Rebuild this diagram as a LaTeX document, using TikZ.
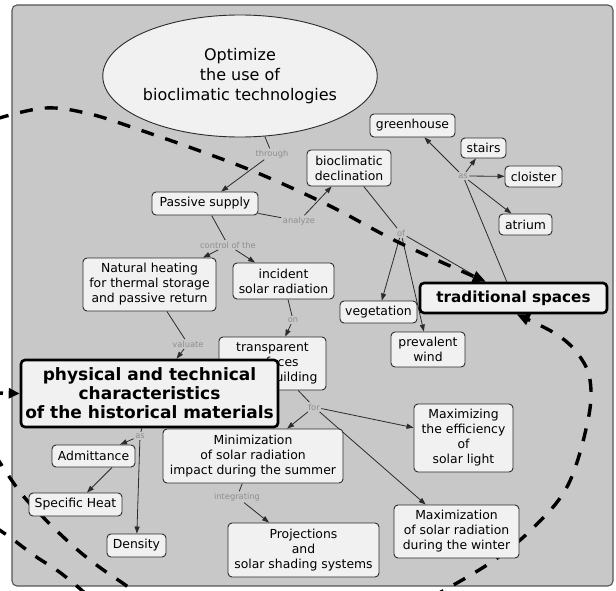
\documentclass[tikz,border=0pt]{standalone}
\usepackage{fontspec}
\setmainfont{DejaVu Sans}
\usetikzlibrary{shapes.geometric,arrows.meta}
\pgfdeclarelayer{background}
\pgfsetlayers{background,main}
\definecolor{panel}{HTML}{C8C8C8}
\definecolor{boxfill}{HTML}{F1F1F1}
\definecolor{edge}{HTML}{2B2B2B}
\definecolor{phrasegray}{HTML}{8E8E8E}

\begin{document}
\begin{tikzpicture}[x=1pt,y=-1pt,
  concept/.style={draw=edge, fill=boxfill, rounded corners=4pt, line width=0.9pt,
    align=center, inner sep=0pt, font=\fontsize{12.4}{15}\selectfont},
  keyconcept/.style={concept, draw=black, line width=2.6pt,
    font=\fontsize{17}{19}\selectfont\bfseries},
  phrase/.style={text=phrasegray, inner sep=1.5pt, font=\fontsize{8.3}{10}\selectfont},
  link/.style={draw=edge, line width=0.8pt},
  linkarrow/.style={link, -{Triangle[length=7pt,width=5pt]}},
  heavy/.style={draw=black, line width=3.4pt, dash pattern=on 13pt off 12pt},
  heavytip/.style={-{Triangle[length=13pt,width=11pt]}}
]
\useasboundingbox (0,0) rectangle (616,591);

% concepts
\node[ellipse, draw=edge, fill=boxfill, line width=0.9pt, minimum width=246pt,
  minimum height=122pt, inner sep=0pt, align=center,
  font=\fontsize{16}{20}\selectfont] (goal) at (240,76)
  {Optimize\\the use of\\bioclimatic technologies};
\node[concept, minimum width=106pt, minimum height=23pt] (passive) at (205,203.5) {Passive supply};
\node[concept, minimum width=84pt, minimum height=36pt] (decl) at (349,168) {bioclimatic\\declination};
\node[concept, minimum width=85pt, minimum height=23pt] (greenhouse) at (412.5,125.5) {greenhouse};
\node[concept, minimum width=45pt, minimum height=20pt] (stairs) at (483.5,148) {stairs};
\node[concept, minimum width=57pt, minimum height=21pt] (cloister) at (533.5,176.5) {cloister};
\node[concept, minimum width=53pt, minimum height=21pt] (atrium) at (525.5,224.5) {atrium};
\node[keyconcept, font=\fontsize{15.2}{18}\selectfont\bfseries, minimum width=187pt,
  minimum height=30pt] (trad) at (513.5,298) {traditional spaces};
\node[concept, minimum width=77pt, minimum height=22pt] (veg) at (378.5,312) {vegetation};
\node[concept, minimum width=74pt, minimum height=35pt] (wind) at (428,349.5) {prevalent\\wind};
\node[concept, minimum width=99pt, minimum height=68pt] (maxlight) at (463.5,438)
  {Maximizing\\the efficiency\\of\\solar light};
\node[concept, minimum width=125pt, minimum height=53pt] (maxwinter) at (456.5,531.5)
  {Maximization\\of solar radiation\\during the winter};
\node[concept, minimum width=151pt, minimum height=54pt] (shading) at (303.5,550)
  {Projections\\and\\solar shading systems};
\node[concept, minimum width=180pt, minimum height=54pt] (minsummer) at (253,456)
  {Minimization\\of solar radiation\\impact during the summer};
\node[concept, minimum width=107pt, minimum height=53pt] (transp) at (272.5,363.5)
  {transparent\\surfaces\\of the building};
\node[concept, minimum width=101pt, minimum height=36pt] (incident) at (283.5,281)
  {incident\\solar radiation};
\node[concept, minimum width=133pt, minimum height=53pt] (natural) at (149.5,284.5)
  {Natural heating\\for thermal storage\\and passive return};
\node[keyconcept, minimum width=257pt, minimum height=67pt] (materials) at (149.5,393.5)
  {physical and technical\\characteristics\\of the historical materials};
\node[concept, minimum width=83pt, minimum height=22pt] (admit) at (93.5,456) {Admittance};
\node[concept, minimum width=93pt, minimum height=23pt] (heat) at (75.5,504.5) {Specific Heat};
\node[concept, minimum width=59pt, minimum height=23pt] (density) at (136.5,545.5) {Density};

% linking phrases
\node[phrase] (through) at (272,154) {through};
\node[phrase] (analyze) at (299,221) {analyze};
\node[phrase] (control) at (228,245) {control of the};
\node[phrase] (valuate) at (188,344) {valuate};
\node[phrase] (on) at (293,320) {on};
\node[phrase] (for) at (314,407) {for};
\node[phrase] (integr) at (237,497) {integrating};
\node[phrase] (asspace) at (463,176) {as};
\node[phrase] (of) at (401,233) {of};
\node[phrase] (asmat) at (140,436) {as};

\coordinate (leftend) at (-3,393);

\begin{pgfonlayer}{background}
  \fill[white] (0,0) rectangle (616,591);
  \draw[fill=panel, draw=edge!80, line width=1.1pt, rounded corners=5pt] (12,5) rectangle (613,586);

  % links
  \draw[link] (goal) -- (through);
  \draw[linkarrow] (through) -- (passive);
  \draw[link] (passive) -- (analyze);
  \draw[linkarrow] (analyze) -- (decl);
  \draw[link] (passive) -- (control);
  \draw[linkarrow] (control) -- (natural);
  \draw[linkarrow] (control) -- (incident);
  \draw[link] (natural) -- (valuate);
  \draw[linkarrow] (valuate) -- (materials);
  \draw[link] (incident) -- (on);
  \draw[linkarrow] (on) -- (transp);
  \draw[link] (transp) -- (for);
  \draw[linkarrow] (for) -- (minsummer);
  \draw[linkarrow] (for) -- (maxlight);
  \draw[linkarrow] (for) -- (maxwinter);
  \draw[link] (minsummer) -- (integr);
  \draw[linkarrow] (integr) -- (shading);
  \draw[link] (trad) -- (asspace);
  \draw[linkarrow] (asspace) -- (greenhouse);
  \draw[linkarrow] (asspace) -- (stairs);
  \draw[linkarrow] (asspace) -- (cloister);
  \draw[linkarrow] (asspace) -- (atrium);
  \draw[link] (decl) -- (of);
  \draw[linkarrow] (of) -- (veg);
  \draw[linkarrow] (of) -- (wind);
  \draw[linkarrow] (of) -- (trad);
  \draw[link] (materials) -- (asmat);
  \draw[linkarrow] (asmat) -- (admit);
  \draw[linkarrow] (asmat) -- (density);
  \draw[linkarrow] ([xshift=18.5pt]admit.south) -- ([xshift=11.5pt]heat.north);

  % heavy dashed boundaries
  \draw[heavy, heavytip] plot[smooth, tension=0.6] coordinates
    {(-4,119) (45,108) (90,114) (140,130) (200,151) (260,174) (330,206) (400,243)
     ([xshift=67pt]trad.north west)};
  \draw[heavy, heavytip] plot[smooth, tension=0.6] coordinates
    {(432,597) (490,563) (533,528) (568,485) (588,420) (590,380) (578,354) (556,334)
     ([xshift=98pt]trad.south west)};
  \draw[heavy] plot[smooth, tension=0.6] coordinates
    {(-5,455) (20,492) (42,516) (58,532) (80,552) (102,569) (124,584) (140,596)};
  \draw[heavy] plot[smooth, tension=0.6] coordinates
    {(-5,527) (11,538) (35,556) (58,571) (78,587) (88,596)};
  \draw[line width=3.4pt, dash pattern=on 6pt off 30pt, -{Triangle[length=11pt,width=10pt]}]
    (leftend) -- (materials.west);
\end{pgfonlayer}
\end{tikzpicture}
\end{document}
